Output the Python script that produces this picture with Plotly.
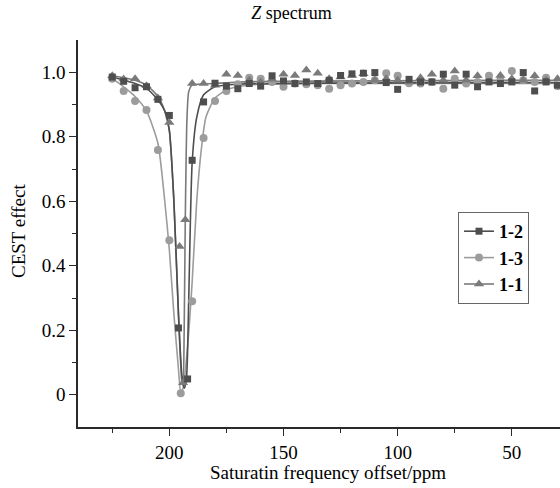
import plotly.graph_objects as go

# ---------------- data ----------------
series_names = ["1-2", "1-3", "1-1"]

x_12 = [225, 220, 215, 210, 205, 200, 196, 192, 190, 185, 180, 175, 170, 165, 160, 155, 150, 145, 140,
        135, 130, 125, 120, 115, 110, 105, 100, 95, 90, 85, 80, 75, 70, 65, 60, 55, 50, 45, 40, 35, 30]
y_12 = [0.985, 0.972, 0.952, 0.955, 0.916, 0.866, 0.207, 0.049, 0.727, 0.908, 0.966, 0.957, 0.949, 0.965,
        0.957, 0.989, 0.973, 0.965, 0.970, 0.965, 0.975, 0.990, 0.995, 0.997, 0.999, 0.968, 0.947, 0.978,
        0.970, 0.970, 0.994, 0.960, 0.994, 0.955, 0.970, 0.965, 0.970, 0.999, 0.942, 0.970, 0.960]

x_13 = [225, 220, 215, 210, 205, 200, 195, 190, 185, 180, 175, 170, 165, 160, 155, 150, 145, 140,
        135, 130, 125, 120, 115, 110, 105, 100, 95, 90, 85, 80, 75, 70, 65, 60, 55, 50, 45, 40, 35, 30]
y_13 = [0.980, 0.942, 0.911, 0.883, 0.759, 0.479, 0.005, 0.290, 0.796, 0.911, 0.942, 0.963, 0.983, 0.980,
        0.970, 0.955, 0.965, 0.963, 0.960, 0.949, 0.960, 0.965, 0.970, 0.975, 0.997, 0.989, 0.966, 0.965,
        0.970, 0.949, 0.980, 0.965, 0.970, 0.989, 0.975, 1.004, 0.975, 0.970, 0.983, 0.957]

x_11 = [225, 220, 215, 210, 205, 200, 195.5, 194, 193, 190, 185, 180, 175, 170, 165, 160, 155, 150, 145,
        140, 135, 130, 125, 120, 115, 110, 105, 100, 95, 90, 85, 80, 75, 70, 65, 60, 55, 50, 45, 40, 35, 30]
y_11 = [0.989, 0.979, 0.980, 0.958, 0.920, 0.844, 0.460, 0.037, 0.543, 0.965, 0.965, 0.960, 0.994, 0.990,
        0.975, 0.970, 0.978, 0.994, 0.990, 1.007, 0.997, 0.980, 0.985, 0.990, 0.995, 0.975, 0.980, 0.975,
        0.970, 0.983, 0.994, 0.975, 1.004, 0.975, 0.989, 0.970, 0.990, 0.980, 0.975, 0.989, 0.975, 0.980]

# fitted curves
fit_x_12 = [225, 215, 210, 205, 202, 200, 198, 196, 194.5, 193.5, 192.5, 191.5, 190, 188, 185, 180, 170, 30]
fit_y_12 = [0.985, 0.965, 0.950, 0.915, 0.880, 0.820, 0.600, 0.250, 0.060, 0.020, 0.050, 0.300, 0.720,
            0.860, 0.930, 0.955, 0.963, 0.968]

fit_x_13 = [225, 220, 215, 210, 205, 202, 200, 198, 196, 195, 194, 192, 190, 188, 186, 184, 180, 175, 170, 160, 140, 30]
fit_y_13 = [0.980, 0.955, 0.925, 0.880, 0.780, 0.600, 0.450, 0.250, 0.080, 0.010, 0.020, 0.150, 0.350,
            0.600, 0.760, 0.860, 0.920, 0.945, 0.955, 0.963, 0.965, 0.965]

fit_x_11 = [225, 215, 210, 205, 202, 200, 198, 196, 194.5, 194, 193.5, 193, 192.3, 191.5, 190, 180, 170, 30]
fit_y_11 = [0.990, 0.975, 0.960, 0.925, 0.880, 0.820, 0.600, 0.250, 0.040, 0.030, 0.200, 0.550, 0.850,
            0.940, 0.960, 0.965, 0.970, 0.975]

x_tick_vals = [200, 150, 100, 50]
x_tick_text = ["200", "150", "100", "50"]
x_minor_vals = [225, 175, 125, 75]
y_tick_vals = [0, 0.2, 0.4, 0.6, 0.8, 1.0]
y_tick_text = ["0", "0.2", "0.4", "0.6", "0.8", "1.0"]
y_minor_vals = [0.1, 0.3, 0.5, 0.7, 0.9]

title_text = "<i>Z</i> spectrum"
x_title = "Saturatin frequency offset/ppm"
y_title = "CEST effect"

# ---------------- styling ----------------
colors = {"1-2": "#4e4e4e", "1-3": "#9c9c9c", "1-1": "#7a7a7a"}
symbols = {"1-2": "square", "1-3": "circle", "1-1": "triangle-up"}
sizes = {"1-2": 7, "1-3": 8, "1-1": 9}
FONT = "Liberation Serif, Times New Roman, serif"
AX = "#2a2a2a"
TXT = "#000000"

data = {"1-2": (x_12, y_12, fit_x_12, fit_y_12),
        "1-3": (x_13, y_13, fit_x_13, fit_y_13),
        "1-1": (x_11, y_11, fit_x_11, fit_y_11)}

fig = go.Figure()
for name in ["1-3", "1-1", "1-2"]:
    xs, ys, fx, fy = data[name]
    fig.add_trace(go.Scatter(x=fx, y=fy, mode="lines", line=dict(color=colors[name], width=1.6,
                             shape="spline", smoothing=0.6), showlegend=False, hoverinfo="skip"))
for name in ["1-3", "1-1", "1-2"]:
    xs, ys, fx, fy = data[name]
    fig.add_trace(go.Scatter(x=xs, y=ys, mode="markers", showlegend=False,
                             marker=dict(symbol=symbols[name], size=sizes[name], color=colors[name])))
# legend entries
for name in series_names:
    fig.add_trace(go.Scatter(x=[None], y=[None], mode="lines+markers", name=name,
                             line=dict(color=colors[name], width=1.6),
                             marker=dict(symbol=symbols[name], size=sizes[name], color=colors[name])))

fig.update_layout(
    width=560, height=488,
    margin=dict(l=78, r=0, t=40, b=61, autoexpand=False),
    paper_bgcolor="white", plot_bgcolor="white",
    font=dict(family=FONT, size=19, color=TXT),
    title=dict(text=title_text, x=291.5 / 560, xanchor="center", y=1 - 13 / 488, yanchor="middle",
               font=dict(family=FONT, size=18, color=TXT)),
    legend=dict(x=(458 - 78) / 482, y=(427 - 212) / 387, xanchor="left", yanchor="top",
                bordercolor="#666", borderwidth=1,
                bgcolor="white", font=dict(family=FONT, size=18, color=TXT, weight="bold"),
                tracegroupgap=0, itemwidth=30),
    annotations=[
        dict(text=x_title, xref="paper", yref="paper", x=(328 - 78) / 482, y=(427 - 472) / 387,
             xanchor="center", yanchor="middle", showarrow=False, font=dict(family=FONT, size=19, color=TXT)),
        dict(text=y_title, xref="paper", yref="paper", x=(18 - 78) / 482, y=(427 - 231) / 387,
             xanchor="center", yanchor="middle", textangle=-90, showarrow=False,
             font=dict(family=FONT, size=19, color=TXT)),
    ],
)
fig.update_xaxes(range=[240, 28.9], tickvals=x_tick_vals, ticktext=x_tick_text,
                 showline=True, linecolor=AX, linewidth=1.5, ticks="outside", ticklen=7,
                 tickcolor=AX, tickwidth=1.3, showgrid=False, zeroline=False, mirror=False,
                 tickfont=dict(family=FONT, size=19, color=TXT),
                 minor=dict(tickvals=x_minor_vals, ticks="outside", ticklen=4, tickcolor=AX))
fig.update_yaxes(range=[-0.1, 1.1], tickvals=y_tick_vals, ticktext=y_tick_text,
                 showline=True, linecolor=AX, linewidth=1.5, ticks="outside", ticklen=7,
                 tickcolor=AX, tickwidth=1.3, showgrid=False, zeroline=False,
                 tickfont=dict(family=FONT, size=19, color=TXT),
                 minor=dict(tickvals=y_minor_vals, ticks="outside", ticklen=4, tickcolor=AX))

fig.write_html("out.html", config={"displayModeBar": False},
               post_script="document.body.style.margin='0';document.body.style.padding='0';")
